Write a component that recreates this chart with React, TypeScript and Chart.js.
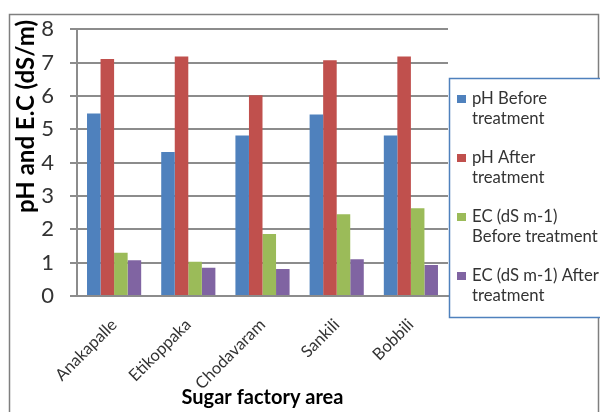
import React, { useEffect, useRef } from "react";
import { Chart, registerables } from "chart.js";

Chart.register(...registerables);

// Sugar factory areas and measured pH / EC before and after treatment
const areas = ["Anakapalle", "Etikoppaka", "Chodavaram", "Sankili", "Bobbili"];
const phBefore = [5.47, 4.32, 4.81, 5.44, 4.81];
const phAfter = [7.11, 7.18, 6.02, 7.07, 7.18];
const ecBefore = [1.3, 1.03, 1.86, 2.45, 2.63];
const ecAfter = [1.07, 0.85, 0.81, 1.1, 0.93];

const seriesLabels = [
  "pH Before treatment",
  "pH After treatment",
  "EC (dS m-1) Before treatment",
  "EC (dS m-1) After treatment",
];
// Wrapped legend lines for each series
const legendLines = [
  ["pH Before", "treatment"],
  ["pH After", "treatment"],
  ["EC (dS m-1)", "Before treatment"],
  ["EC (dS m-1) After", "treatment"],
];
const seriesColors = ["#4f81bd", "#c0504d", "#9bbb59", "#8064a2"];

const yTitle = "pH and E.C (dS/m)";
const xTitle = "Sugar factory area";

const FONT = "Lato, 'Open Sans', sans-serif";
const GRID = "#8c8c8c";
const TEXT = "#333333";

const framePlugin = {
  id: "frameAndLegend",
  beforeDraw(chart: any) {
    const { ctx, width, height } = chart;
    ctx.save();
    ctx.fillStyle = "#ffffff";
    ctx.fillRect(0, 0, width, height);
    ctx.strokeStyle = "#7f7f7f";
    ctx.lineWidth = 1.5;
    ctx.beginPath();
    ctx.moveTo(9.5, height + 2);
    ctx.lineTo(9.5, 14.5);
    ctx.lineTo(598.5, 14.5);
    ctx.lineTo(598.5, height + 2);
    ctx.stroke();
    ctx.restore();
  },
  afterDraw(chart: any) {
    const { ctx } = chart;
    ctx.save();
    // vertical axis title
    ctx.translate(26, 20);
    ctx.rotate(-Math.PI / 2);
    ctx.font = `bold 24px ${FONT}`;
    ctx.fillStyle = "#000000";
    ctx.textAlign = "right";
    ctx.textBaseline = "middle";
    ctx.fillText(yTitle, 0, 0);
    ctx.restore();

    // legend box
    ctx.save();
    ctx.fillStyle = "#ffffff";
    ctx.fillRect(449, 78.5, 160, 239);
    ctx.strokeStyle = "#4f81bd";
    ctx.lineWidth = 1.5;
    ctx.strokeRect(449.5, 78.5, 160, 239);
    ctx.font = `16.7px ${FONT}`;
    ctx.textBaseline = "middle";
    ctx.textAlign = "left";
    chart.data.datasets.forEach((ds: any, i: number) => {
      const y0 = 99 + i * 59;
      ctx.fillStyle = ds.backgroundColor;
      ctx.fillRect(457, y0 - 4, 9, 8);
      ctx.fillStyle = TEXT;
      legendLines[i].forEach((line, j) => {
        ctx.fillText(line, 472, y0 + j * 20);
      });
    });
    ctx.restore();
  },
};

export default function App() {
  const canvasRef = useRef<HTMLCanvasElement | null>(null);

  useEffect(() => {
    if (!canvasRef.current) return;
    Chart.defaults.font.family = FONT;
    const chart = new Chart(canvasRef.current, {
      type: "bar",
      data: {
        labels: areas,
        datasets: [phBefore, phAfter, ecBefore, ecAfter].map((values, i) => ({
          label: seriesLabels[i],
          data: values,
          backgroundColor: seriesColors[i],
          borderWidth: 0,
          categoryPercentage: 0.73,
          barPercentage: 1.0,
        })),
      },
      options: {
        animation: false,
        responsive: false,
        layout: { padding: { left: 0, right: 152, top: 29, bottom: 0 } },
        plugins: {
          legend: { display: false },
          tooltip: { enabled: false },
        },
        scales: {
          x: {
            grid: { display: false },
            border: { display: true, color: GRID, width: 2 },
            ticks: {
              minRotation: 45,
              maxRotation: 45,
              font: { size: 16.5 },
              color: TEXT,
              padding: 11,
            },
            title: {
              display: true,
              text: xTitle,
              font: { size: 20, weight: "bold" },
              color: "#000000",
              padding: { top: 0, bottom: 2 },
            },
            afterFit(scale: any) {
              scale.height = 116;
            },
          },
          y: {
            min: 0,
            max: 8,
            ticks: {
              stepSize: 1,
              font: { size: 22 },
              color: TEXT,
              padding: 16,
            },
            grid: { color: GRID, lineWidth: 2, tickLength: 7 },
            border: { display: true, color: GRID, width: 2 },
            afterFit(scale: any) {
              scale.width = 77;
            },
          },
        },
      },
      plugins: [framePlugin],
    });
    return () => chart.destroy();
  }, []);

  return (
    <div style={{ position: "absolute", left: 0, top: 0, width: 600, height: 412 }}>
      <canvas ref={canvasRef} width={600} height={412} />
    </div>
  );
}
